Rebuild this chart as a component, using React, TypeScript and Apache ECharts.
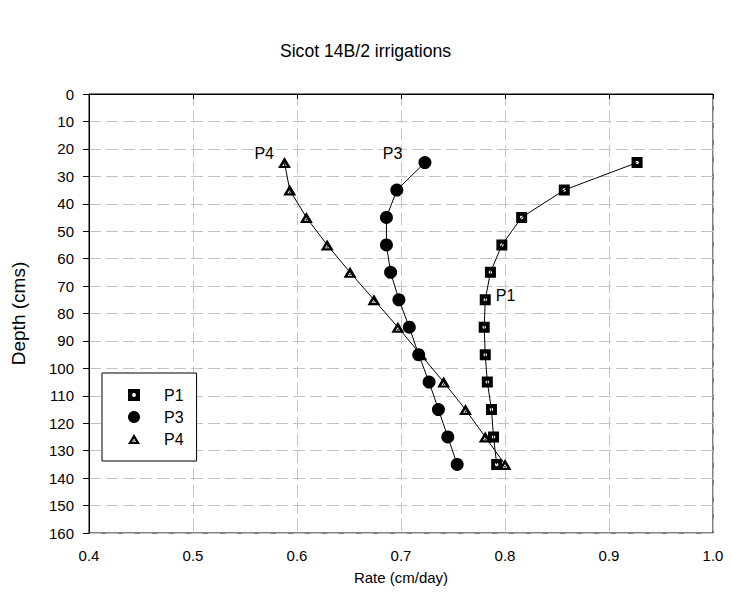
import React, { useEffect, useRef } from "react";
import * as echarts from "echarts";

const depths = [25, 35, 45, 55, 65, 75, 85, 95, 105, 115, 125, 135];
const p1Rates = [0.927, 0.857, 0.816, 0.797, 0.786, 0.781, 0.780, 0.781, 0.783, 0.787, 0.789, 0.792];
const p3Rates = [0.723, 0.696, 0.686, 0.686, 0.690, 0.698, 0.708, 0.717, 0.727, 0.736, 0.745, 0.754];
const p4Rates = [0.588, 0.593, 0.609, 0.629, 0.651, 0.674, 0.697, 0.719, 0.741, 0.762, 0.781, 0.800];
const seriesNames = ["P1", "P3", "P4"];

const FONT = "Liberation Sans, Arial, sans-serif";
const P1_ICON =
  "path://M0 0 H10 V10 H0 Z M5 3.4 A1.6 1.6 0 1 0 5 6.6 A1.6 1.6 0 1 0 5 3.4 Z";
const P4_ICON =
  "path://M6 0 L12 10 L0 10 Z M6 4.6 L3.9 8 L8.1 8 Z M6 6.3 A0.7 0.7 0 1 1 6 7.7 A0.7 0.7 0 1 1 6 6.3 Z";

function makeData(rates: number[], labelIdx: number, label: string, labelCfg: any) {
  return rates.map((r, i) => {
    const item: any = { value: [r, depths[i]] };
    if (i === labelIdx) {
      item.label = { show: true, formatter: label, color: "#000", fontSize: 16, fontFamily: FONT, ...labelCfg };
    }
    return item;
  });
}

export default function App() {
  const ref = useRef<HTMLDivElement>(null);
  useEffect(() => {
    if (!ref.current) return;
    const chart = echarts.init(ref.current, undefined, { renderer: "svg" });
    const splitLine = { show: true, lineStyle: { color: "#c4c4c4", type: [12, 5], width: 1 } };
    chart.setOption({
      animation: false,
      backgroundColor: "#fff",
      title: {
        text: "Sicot 14B/2 irrigations",
        left: "center",
        top: 37,
        textStyle: { fontFamily: FONT, fontSize: 17.6, fontWeight: "normal", color: "#000" },
      },
      grid: {
        left: 89,
        right: 18,
        top: 94,
        bottom: 59,
        show: true,
        borderColor: "#000",
        borderWidth: 1,
        backgroundColor: "transparent",
      },
      legend: {
        orient: "vertical",
        left: 102,
        top: 373,
        backgroundColor: "#fff",
        borderColor: "#000",
        borderWidth: 1,
        padding: [13, 13, 13, 26],
        itemWidth: 12,
        itemHeight: 12,
        itemGap: 4,
        textStyle: { fontFamily: FONT, fontSize: 16, color: "#000", padding: [0, 0, 0, 19], lineHeight: 18 },
        data: [
          { name: "P1", icon: P1_ICON },
          { name: "P3", icon: "circle" },
          { name: "P4", icon: P4_ICON },
        ],
      },
      xAxis: {
        type: "value",
        min: 0.4,
        max: 1.0,
        interval: 0.1,
        name: "Rate (cm/day)",
        nameLocation: "middle",
        nameGap: 37,
        nameTextStyle: { fontFamily: FONT, fontSize: 15, color: "#000" },
        axisLine: { show: true, lineStyle: { color: "#000", width: 1 } },
        axisTick: { show: true, inside: false, length: 5, lineStyle: { color: "#000" } },
        axisLabel: {
          formatter: (v: number) => v.toFixed(1),
          fontFamily: FONT,
          fontSize: 15,
          color: "#000",
          margin: 15,
        },
        splitLine,
      },
      yAxis: {
        type: "value",
        inverse: true,
        min: 0,
        max: 160,
        interval: 10,
        name: "Depth (cms)",
        nameLocation: "middle",
        nameGap: 61,
        nameTextStyle: { fontFamily: FONT, fontSize: 19, color: "#000" },
        axisLine: { show: true, lineStyle: { color: "#000", width: 1 } },
        axisTick: { show: true, inside: false, length: 6, lineStyle: { color: "#000" } },
        axisLabel: { fontFamily: FONT, fontSize: 15, color: "#000", margin: 15 },
        splitLine,
      },
      series: [
        {
          name: seriesNames[0],
          type: "line",
          data: makeData(p1Rates, 5, "P1", { position: "right", distance: 5, offset: [0, -4] }),
          symbol: P1_ICON,
          symbolSize: 11,
          showAllSymbol: true,
          lineStyle: { color: "#000", width: 1 },
          itemStyle: { color: "#000", borderWidth: 0 },
          z: 3,
        },
        {
          name: seriesNames[1],
          type: "line",
          data: makeData(p3Rates, 0, "P3", { position: "left", distance: 5, offset: [-11, -9] }),
          symbol: "circle",
          symbolSize: 13,
          showAllSymbol: true,
          lineStyle: { color: "#000", width: 1 },
          itemStyle: { color: "#000", borderWidth: 0 },
          z: 3,
        },
        {
          name: seriesNames[2],
          type: "line",
          data: makeData(p4Rates, 0, "P4", { position: "left", distance: 4, offset: [0, -9] }),
          symbol: P4_ICON,
          symbolSize: [13, 11],
          showAllSymbol: true,
          lineStyle: { color: "#000", width: 1 },
          itemStyle: { color: "#000", borderWidth: 0 },
          z: 3,
        },
      ],
    });
    return () => chart.dispose();
  }, []);
  return <div ref={ref} style={{ width: 731, height: 592, position: "absolute", left: 0, top: 0 }} />;
}
